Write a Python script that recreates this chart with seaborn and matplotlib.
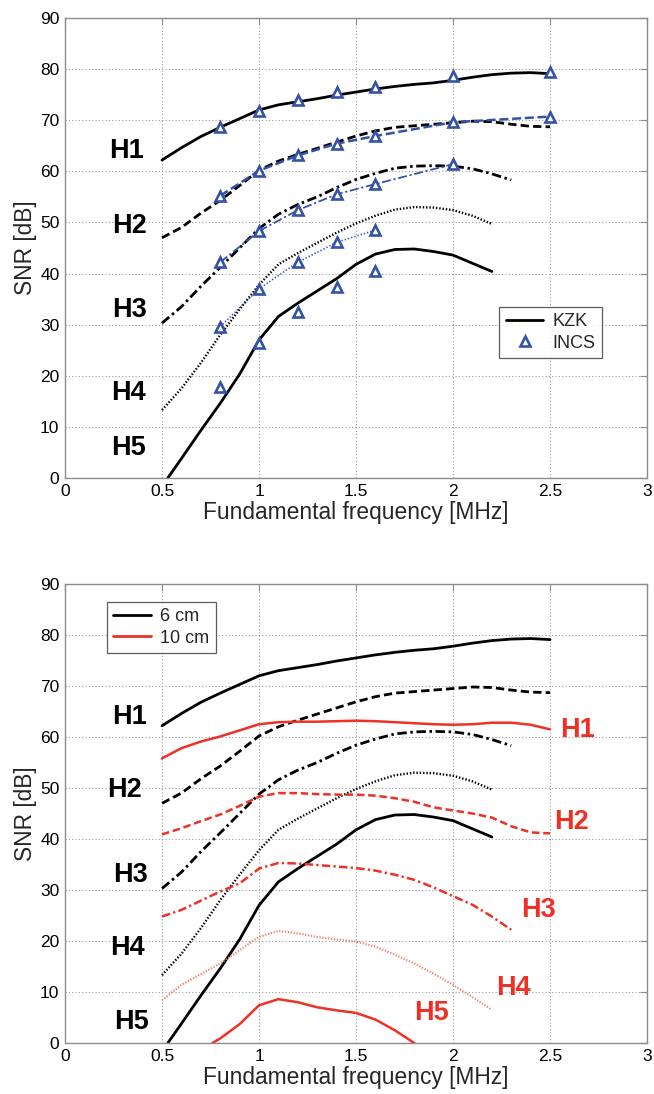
import matplotlib
matplotlib.use("Agg")
import matplotlib.pyplot as plt
from matplotlib.lines import Line2D
import seaborn as sns

# ---------------- data ----------------
# KZK simulation (6 cm depth), SNR in dB per harmonic
kzk_f = [0.5, 0.6, 0.7, 0.8, 0.9, 1.0, 1.1, 1.2, 1.3, 1.4, 1.5,
         1.6, 1.7, 1.8, 1.9, 2.0, 2.1, 2.2, 2.3, 2.4, 2.5]
kzk_h1 = [62.2, 64.6, 66.8, 68.6, 70.3, 72.0, 73.0, 73.6, 74.2, 74.9, 75.5,
          76.1, 76.6, 77.0, 77.3, 77.8, 78.4, 78.9, 79.2, 79.3, 79.1]
kzk_h2 = [47.0, 49.0, 51.8, 54.3, 57.2, 60.2, 62.0, 63.3, 64.5, 65.7, 66.9,
          67.9, 68.6, 68.9, 69.2, 69.5, 69.8, 69.7, 69.2, 68.8, 68.7]
kzk_f3 = [0.5, 0.6, 0.7, 0.8, 0.9, 1.0, 1.1, 1.2, 1.3, 1.4, 1.5,
          1.6, 1.7, 1.8, 1.9, 2.0, 2.1, 2.2, 2.3]
kzk_h3 = [30.3, 33.5, 37.5, 41.2, 45.0, 48.8, 51.6, 53.5, 55.0, 56.8, 58.4,
          59.6, 60.6, 61.0, 61.1, 61.0, 60.5, 59.5, 58.3]
kzk_f4 = [0.5, 0.6, 0.7, 0.8, 0.9, 1.0, 1.1, 1.2, 1.3, 1.4, 1.5,
          1.6, 1.7, 1.8, 1.9, 2.0, 2.1, 2.2]
kzk_h4 = [13.3, 17.5, 22.5, 28.0, 33.0, 37.8, 41.8, 44.0, 46.0, 48.0, 49.8,
          51.3, 52.5, 53.0, 52.9, 52.4, 51.3, 49.7]
kzk_f5 = [0.53, 0.6, 0.7, 0.8, 0.9, 1.0, 1.1, 1.2, 1.3, 1.4, 1.5,
          1.6, 1.7, 1.8, 1.9, 2.0, 2.1, 2.2]
kzk_h5 = [0.0, 3.8, 9.3, 14.6, 20.3, 27.0, 31.6, 34.2, 36.6, 39.0, 41.8,
          43.8, 44.7, 44.8, 44.3, 43.6, 42.0, 40.4]

# INCS simulation points
incs_f = [0.8, 1.0, 1.2, 1.4, 1.6, 2.0, 2.5]
incs_h1 = [68.7, 71.8, 74.0, 75.5, 76.5, 78.6, 79.5]
incs_h2 = [55.2, 60.1, 63.1, 65.4, 66.9, 69.6, 70.7]
incs_f3 = [0.8, 1.0, 1.2, 1.4, 1.6, 2.0]
incs_h3 = [42.2, 48.3, 52.4, 55.5, 57.5, 61.4]
incs_f45 = [0.8, 1.0, 1.2, 1.4, 1.6]
incs_h4 = [29.6, 37.0, 42.2, 46.1, 48.5]
incs_h5 = [17.7, 26.4, 32.4, 37.3, 40.4]

# KZK at 10 cm depth
d10_f = [0.5, 0.6, 0.7, 0.8, 0.9, 1.0, 1.1, 1.2, 1.3, 1.4, 1.5,
         1.6, 1.7, 1.8, 1.9, 2.0, 2.1, 2.2, 2.3, 2.4, 2.5]
d10_h1 = [55.8, 57.8, 59.1, 60.1, 61.3, 62.5, 62.9, 63.0, 63.0, 63.1, 63.2,
          63.1, 62.9, 62.7, 62.5, 62.4, 62.5, 62.8, 62.8, 62.4, 61.5]
d10_h2 = [40.9, 42.1, 43.5, 44.8, 46.5, 48.3, 49.0, 49.0, 48.8, 48.7, 48.7,
          48.5, 48.0, 47.3, 46.2, 45.6, 45.0, 44.2, 42.5, 41.3, 41.1]
d10_f3 = [0.5, 0.6, 0.7, 0.8, 0.9, 1.0, 1.1, 1.2, 1.3, 1.4, 1.5,
          1.6, 1.7, 1.8, 1.9, 2.0, 2.1, 2.2, 2.3]
d10_h3 = [24.8, 26.1, 27.9, 29.7, 31.3, 34.2, 35.3, 35.2, 34.9, 34.6, 34.3,
          33.8, 33.0, 32.0, 30.5, 28.8, 27.1, 24.8, 22.2]
d10_f4 = [0.5, 0.6, 0.7, 0.8, 0.9, 1.0, 1.1, 1.2, 1.3, 1.4, 1.5,
          1.6, 1.7, 1.8, 1.9, 2.0, 2.1, 2.2]
d10_h4 = [8.4, 11.4, 13.5, 15.6, 18.2, 20.8, 22.0, 21.5, 20.8, 20.3, 19.9,
          18.9, 17.3, 15.6, 13.6, 11.4, 9.0, 6.5]
d10_f5 = [0.76, 0.8, 0.9, 1.0, 1.1, 1.2, 1.3, 1.4, 1.5, 1.6, 1.7, 1.8]
d10_h5 = [0.0, 0.9, 3.7, 7.4, 8.6, 8.0, 7.0, 6.4, 5.9, 4.6, 2.5, 0.0]

harmonics = ["H1", "H2", "H3", "H4", "H5"]
x_ticks = [0, 0.5, 1, 1.5, 2, 2.5, 3]
y_ticks = [0, 10, 20, 30, 40, 50, 60, 70, 80, 90]

# ---------------- style ----------------
sns.set_style("white")
plt.rcParams['font.family'] = ['Liberation Sans', 'DejaVu Sans']

BLACK = "#000000"
BLUE = "#3553a6"
RED = "#ee3124"
RED_LIGHT = "#f27a6c"
GRID = "#9a9a9a"
FRAME = "#8c8c8c"

fig = plt.figure(figsize=(6.54, 10.94), dpi=100)
ax_top = fig.add_axes([0.0994, 0.5631, 0.8900, 0.4205])
ax_bot = fig.add_axes([0.0994, 0.0466, 0.8900, 0.4196])


def curve(ax, x, y, color, ls, lw=2.0, **kw):
    sns.lineplot(x=x, y=y, ax=ax, color=color, linestyle=ls, linewidth=lw,
                 estimator=None, sort=False, legend=False, **kw)


def markers(ax, x, y, ls=None, lw=1.2):
    if ls is not None:
        sns.lineplot(x=x, y=y, ax=ax, color=BLUE, linestyle=ls, linewidth=lw,
                     estimator=None, sort=False, legend=False)
    sns.lineplot(x=x, y=y, ax=ax, color=BLUE, linestyle="none", marker="^",
                 markersize=6.5, markerfacecolor="white", markeredgecolor=BLUE,
                 markeredgewidth=1.9, estimator=None, sort=False, legend=False)


DASH = (0, (3.0, 1.5))
DASHDOT = (0, (3.4, 1.3, 0.9, 1.3))
DOT = (0, (0.6, 0.8))

# black KZK curves (both panels)
for ax in (ax_top, ax_bot):
    curve(ax, kzk_f, kzk_h1, BLACK, "-")
    curve(ax, kzk_f, kzk_h2, BLACK, DASH)
    curve(ax, kzk_f3, kzk_h3, BLACK, DASHDOT)
    curve(ax, kzk_f4, kzk_h4, BLACK, DOT, lw=1.7)
    curve(ax, kzk_f5, kzk_h5, BLACK, "-")

# INCS comparison
markers(ax_top, incs_f, incs_h1)
markers(ax_top, incs_f, incs_h2, ls=(0, (3.6, 1.5)), lw=1.8)
markers(ax_top, incs_f3, incs_h3, ls=(0, (5, 1.5, 1.2, 1.5)), lw=1.3)
markers(ax_top, incs_f45, incs_h4, ls=(0, (0.8, 1.2)), lw=1.2)
markers(ax_top, incs_f45, incs_h5)

# 10 cm curves
curve(ax_bot, d10_f, d10_h1, RED, "-", lw=1.8)
curve(ax_bot, d10_f, d10_h2, RED, DASH, lw=1.8)
curve(ax_bot, d10_f3, d10_h3, RED, DASHDOT, lw=1.8)
curve(ax_bot, d10_f4, d10_h4, RED_LIGHT, DOT, lw=1.5)
curve(ax_bot, d10_f5, d10_h5, RED, "-", lw=1.8)

# harmonic labels
lab_kw = dict(fontsize=19.5, fontweight="bold", ha="left", va="center")
top_lab = [(0.225, 64.0), (0.245, 49.2), (0.245, 32.9), (0.237, 16.6), (0.237, 5.8)]
bot_lab = [(0.245, 64.0), (0.215, 49.6), (0.250, 32.9), (0.232, 18.6), (0.255, 4.2)]
red_lab = [(2.55, 61.4), (2.52, 43.4), (2.35, 26.1), (2.22, 10.7), (1.80, 5.8)]
for name, (x, y) in zip(harmonics, top_lab):
    ax_top.text(x, y, name, color=BLACK, **lab_kw)
for name, (x, y) in zip(harmonics, bot_lab):
    ax_bot.text(x, y, name, color=BLACK, **lab_kw)
for name, (x, y) in zip(harmonics, red_lab):
    ax_bot.text(x, y, name, color=RED, **lab_kw)

# axes cosmetics
for ax in (ax_top, ax_bot):
    ax.set_xlim(0, 3)
    ax.set_ylim(0, 90)
    ax.set_xticks(x_ticks)
    ax.set_xticklabels(["0", "0.5", "1", "1.5", "2", "2.5", "3"])
    ax.set_yticks(y_ticks)
    ax.grid(True, color=GRID, linestyle=(0, (1, 2)), linewidth=0.8)
    ax.tick_params(direction="in", top=True, right=True, length=5,
                   width=0.8, color=FRAME, labelsize=12.5, pad=4,
                   labelcolor="black")
    for sp in ax.spines.values():
        sp.set_color(FRAME)
        sp.set_linewidth(1.0)
    ax.set_xlabel("Fundamental frequency [MHz]", fontsize=16.4, labelpad=2)
    ax.set_ylabel("SNR [dB]", fontsize=16.4, labelpad=2)

# legends
leg_kw = dict(fontsize=13, frameon=True, fancybox=False, loc="upper left",
              borderaxespad=0, handlelength=2.1, handletextpad=0.5,
              borderpad=0.35, labelspacing=0.25)
h_top = [Line2D([], [], color=BLACK, lw=2.0),
         Line2D([], [], color=BLUE, ls="none", marker="^", markersize=6.5,
                markerfacecolor="white", markeredgewidth=1.9)]
lt = ax_top.legend(h_top, ["KZK", "INCS"], bbox_to_anchor=(0.746, 0.372), **leg_kw)
lt.get_frame().set_edgecolor("#333333")
lt.get_frame().set_linewidth(0.9)

h_bot = [Line2D([], [], color=BLACK, lw=2.0),
         Line2D([], [], color=RED, lw=2.0)]
lb = ax_bot.legend(h_bot, ["6 cm", "10 cm"], bbox_to_anchor=(0.072, 0.961), **leg_kw)
lb.get_frame().set_edgecolor("#333333")
lb.get_frame().set_linewidth(0.9)

fig.savefig("out.png", dpi=100)
